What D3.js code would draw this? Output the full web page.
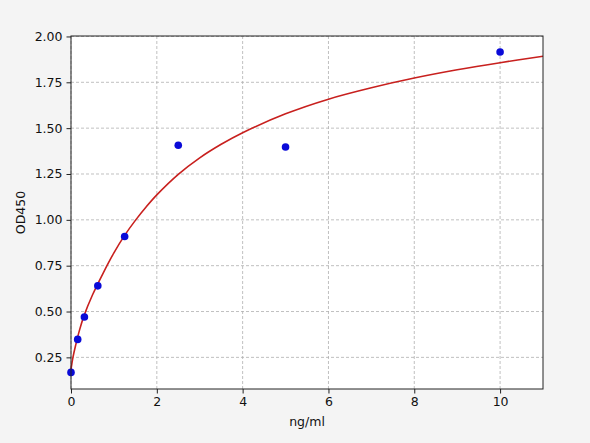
<!DOCTYPE html>
<html>
<head>
<meta charset="utf-8">
<script src="https://cdn.jsdelivr.net/npm/d3@7"></script>
<style>
  html, body { margin: 0; padding: 0; background: #f4f4f4; }
  svg { display: block; font-family: "DejaVu Sans", sans-serif; }
</style>
</head>
<body>
<div id="chart"></div>
<script>
// Measured standards (concentration, OD)
const concentrations = [0, 0.156, 0.3125, 0.625, 1.25, 2.5, 5, 10];
const odValues = [0.168, 0.348, 0.470, 0.640, 0.909, 1.407, 1.397, 1.915];

// Fitted curve
const curveX = [0, 0.02, 0.05, 0.1, 0.2, 0.3, 0.5, 0.75, 1, 1.25, 1.5, 1.75, 2, 2.5, 3, 3.5, 4, 5, 6, 7, 8, 9, 10, 11];
const curveY = [0.185, 0.215, 0.255, 0.308, 0.400, 0.475, 0.590, 0.710, 0.820, 0.915, 0.997, 1.070, 1.136, 1.248, 1.338, 1.412, 1.475, 1.578, 1.658, 1.720, 1.773, 1.818, 1.857, 1.892];

const xTicks = [0, 2, 4, 6, 8, 10];
const yTicks = [0.25, 0.50, 0.75, 1.00, 1.25, 1.50, 1.75, 2.00];

const width = 590, height = 443;
const margin = { left: 71, right: 47, top: 36, bottom: 54 };

const x_scale = d3.scaleLinear()
    .domain([0, 11])
    .range([margin.left, width - margin.right]);

const y_scale = d3.scaleLinear()
    .domain([0.0775, 2.0025])
    .range([height - margin.bottom, margin.top]);

const svg = d3.select("#chart")
    .append("svg")
    .attr("width", width)
    .attr("height", height)
    .attr("viewBox", [0, 0, width, height]);

svg.append("rect")
    .attr("x", margin.left)
    .attr("y", margin.top)
    .attr("width", width - margin.left - margin.right)
    .attr("height", height - margin.top - margin.bottom)
    .attr("fill", "#ffffff");

// Grid lines
svg.append("g")
    .selectAll("line")
    .data(xTicks)
    .join("line")
        .attr("x1", (d) => x_scale(d))
        .attr("x2", (d) => x_scale(d))
        .attr("y1", margin.top)
        .attr("y2", height - margin.bottom)
        .attr("stroke", "#b0b0b0")
        .attr("stroke-width", 0.8)
        .attr("stroke-dasharray", "3,2");

svg.append("g")
    .selectAll("line")
    .data(yTicks)
    .join("line")
        .attr("x1", margin.left)
        .attr("x2", width - margin.right)
        .attr("y1", (d) => y_scale(d))
        .attr("y2", (d) => y_scale(d))
        .attr("stroke", "#b0b0b0")
        .attr("stroke-width", 0.8)
        .attr("stroke-dasharray", "3,2");

// Fitted curve
const curve = curveX.map((d, i) => [d, curveY[i]]);
svg.append("path")
    .datum(curve)
    .attr("fill", "none")
    .attr("stroke", "#c8201e")
    .attr("stroke-width", 1.6)
    .attr("d", d3.line()
        .x((d) => x_scale(d[0]))
        .y((d) => y_scale(d[1]))
        .curve(d3.curveCatmullRom.alpha(0.5)));

// Points
svg.append("g")
    .selectAll("circle")
    .data(concentrations)
    .join("circle")
        .attr("cx", (d) => x_scale(d))
        .attr("cy", (d, i) => y_scale(odValues[i]))
        .attr("r", 3.8)
        .attr("fill", "#0a0ad8");

// Frame
svg.append("rect")
    .attr("x", margin.left)
    .attr("y", margin.top)
    .attr("width", width - margin.left - margin.right)
    .attr("height", height - margin.top - margin.bottom)
    .attr("fill", "none")
    .attr("stroke", "#222")
    .attr("stroke-width", 1);

// Axes
const xAxis = svg.append("g")
    .attr("transform", `translate(0, ${height - margin.bottom})`)
    .call(d3.axisBottom(x_scale).tickValues(xTicks).tickSize(4.5).tickPadding(4).tickFormat(d3.format("d")));

const yAxis = svg.append("g")
    .attr("transform", `translate(${margin.left}, 0)`)
    .call(d3.axisLeft(y_scale).tickValues(yTicks).tickSize(4.5).tickPadding(4).tickFormat(d3.format(".2f")));

[xAxis, yAxis].forEach((g) => {
    g.select(".domain").remove();
    g.selectAll("text").attr("font-size", 12.5).attr("fill", "#111").attr("font-family", "DejaVu Sans, sans-serif");
    g.selectAll("line").attr("stroke", "#222");
});

svg.append("text")
    .attr("x", (margin.left + width - margin.right) / 2)
    .attr("y", 426)
    .attr("text-anchor", "middle")
    .attr("font-size", 12.5)
    .attr("fill", "#111")
    .text("ng/ml");

svg.append("text")
    .attr("transform", `translate(25, ${(margin.top + height - margin.bottom) / 2}) rotate(-90)`)
    .attr("text-anchor", "middle")
    .attr("font-size", 12.5)
    .attr("fill", "#111")
    .text("OD450");
</script>
</body>
</html>
